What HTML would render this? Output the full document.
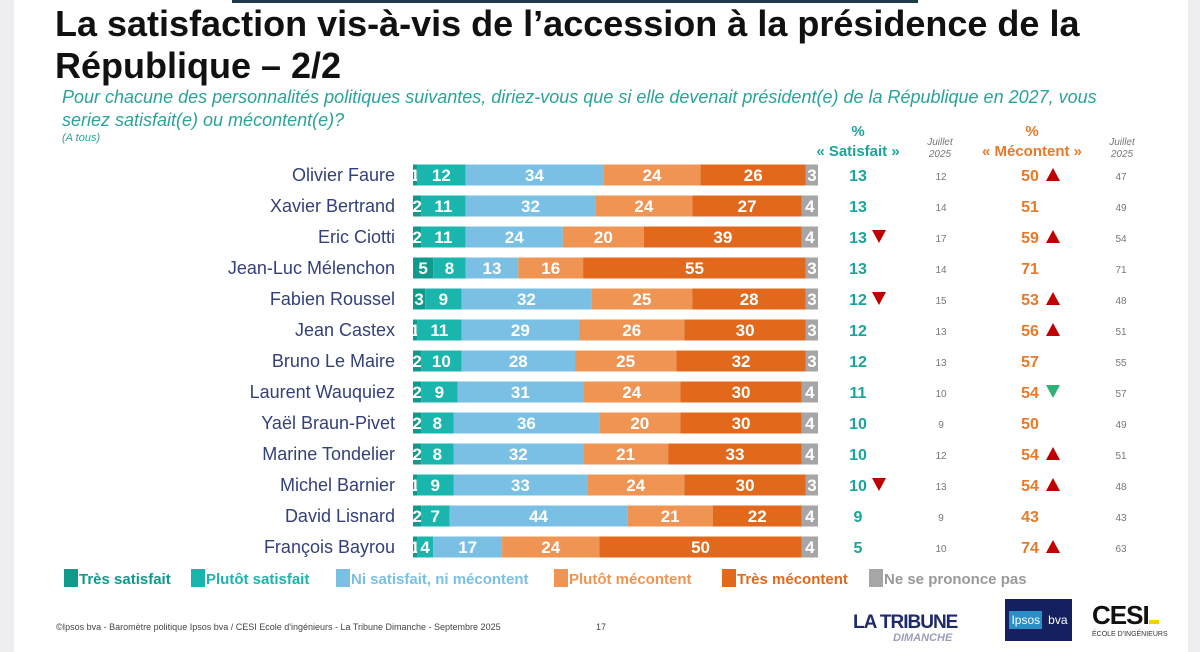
<!DOCTYPE html>
<html><head><meta charset="utf-8"><style>
body{margin:0;width:1200px;height:652px;overflow:hidden;background:#fff;font-family:"Liberation Sans",sans-serif;position:relative}
.abs{position:absolute}
.lg{position:absolute;top:569px;font-size:15px;font-weight:bold;white-space:nowrap}
.sq{display:inline-block;width:14px;height:18px;vertical-align:-3px;margin-right:1px}
</style></head><body>
<div class="abs" style="left:0;top:0;width:14px;height:652px;background:#eeeef2"></div>
<div class="abs" style="left:1188px;top:0;width:12px;height:652px;background:#eeeef2"></div>
<div class="abs" style="left:232px;top:0;width:686px;height:3px;background:#1d3a4a"></div>
<div class="abs" style="left:55px;top:3px;width:1120px;font-size:36px;font-weight:bold;line-height:42px;color:#111">La satisfaction vis-à-vis de l’accession à la présidence de la République – 2/2</div>
<div class="abs" style="left:62px;top:86px;width:1045px;font-size:18px;font-style:italic;line-height:23px;color:#2aa39a">Pour chacune des personnalités politiques suivantes, diriez-vous que si elle devenait président(e) de la République en 2027, vous seriez satisfait(e) ou mécontent(e)?</div>
<div class="abs" style="left:62px;top:132px;font-size:11px;font-style:italic;color:#2aa39a">(A tous)</div>
<div class="abs" style="left:798px;top:122px;width:120px;text-align:center;font-size:15px;font-weight:bold;color:#1aa59b;line-height:20px">%<br>« Satisfait »</div>
<div class="abs" style="left:910px;top:137px;width:60px;text-align:center;font-size:10px;font-style:italic;color:#777;line-height:12px">Juillet<br>2025</div>
<div class="abs" style="left:962px;top:122px;width:140px;text-align:center;font-size:15px;font-weight:bold;color:#e8792a;line-height:20px">%<br>« Mécontent »</div>
<div class="abs" style="left:1092px;top:137px;width:60px;text-align:center;font-size:10px;font-style:italic;color:#777;line-height:12px">Juillet<br>2025</div>
<svg class="abs" style="left:0;top:0" width="1200" height="652" id="chart"></svg>
<span class="lg" style="left:64px;color:#0f9a8c"><span class="sq" style="background:#0f9a8c"></span>Très satisfait</span>
<span class="lg" style="left:191px;color:#1ab5ad"><span class="sq" style="background:#1ab5ad"></span>Plutôt satisfait</span>
<span class="lg" style="left:336px;color:#7ac0e4"><span class="sq" style="background:#7ac0e4"></span>Ni satisfait, ni mécontent</span>
<span class="lg" style="left:554px;color:#ef9452"><span class="sq" style="background:#ef9452"></span>Plutôt mécontent</span>
<span class="lg" style="left:722px;color:#e2691c"><span class="sq" style="background:#e2691c"></span>Très mécontent</span>
<span class="lg" style="left:869px;color:#999"><span class="sq" style="background:#a6a6a6"></span>Ne se prononce pas</span>
<div class="abs" style="left:56px;top:622px;font-size:9px;color:#444">©Ipsos bva - Baromètre politique Ipsos bva / CESI Ecole d'ingénieurs - La Tribune Dimanche - Septembre 2025</div>
<div class="abs" style="left:596px;top:622px;font-size:9px;color:#444">17</div>
<div class="abs" style="left:853px;top:612px;font-size:19px;font-weight:bold;color:#1f2a6b;letter-spacing:-1px">LA TRIBUNE</div>
<div class="abs" style="left:893px;top:632px;font-size:11px;font-style:italic;font-weight:bold;color:#9aa0b8">DIMANCHE</div>
<div class="abs" style="left:1005px;top:599px;width:67px;height:42px;background:#142060;color:#fff;font-size:12px;display:flex;align-items:center;justify-content:center;gap:6px"><span style="background:#2a8fc4;padding:2px 2px">Ipsos</span><span>bva</span></div>
<div class="abs" style="left:1092px;top:600px;font-size:26px;font-weight:bold;color:#111;letter-spacing:-1px">CESI<span style="display:inline-block;width:10px;height:4px;background:#f5d000"></span></div>
<div class="abs" style="left:1092px;top:631px;font-size:7px;color:#333">ÉCOLE D'INGÉNIEURS</div>
<script>
const names=["Olivier Faure","Xavier Bertrand","Eric Ciotti","Jean-Luc Mélenchon","Fabien Roussel","Jean Castex","Bruno Le Maire","Laurent Wauquiez","Yaël Braun-Pivet","Marine Tondelier","Michel Barnier","David Lisnard","François Bayrou"];
const tresSat=[1,2,2,5,3,1,2,2,2,2,1,2,1];
const plutotSat=[12,11,11,8,9,11,10,9,8,8,9,7,4];
const ni=[34,32,24,13,32,29,28,31,36,32,33,44,17];
const plutotMec=[24,24,20,16,25,26,25,24,20,21,24,21,24];
const tresMec=[26,27,39,55,28,30,32,30,30,33,30,22,50];
const nsp=[3,4,4,3,3,3,3,4,4,4,3,4,4];
const satTotal=[13,13,13,13,12,12,12,11,10,10,10,9,5];
const satJuillet=[12,14,17,14,15,13,13,10,9,12,13,9,10];
const mecTotal=[50,51,59,71,53,56,57,54,50,54,54,43,74];
const mecJuillet=[47,49,54,71,48,51,55,57,49,51,48,43,63];
const satTrend=["","","down","","down","","","","","","down","",""];
const mecTrend=["up","","up","","up","up","","downgreen","","up","up","","up"];
const series=[tresSat,plutotSat,ni,plutotMec,tresMec,nsp];
const colors=["#0f9a8c","#1ab5ad","#7ac0e4","#ef9452","#e2691c","#a6a6a6"];
const svg=document.getElementById('chart');const NS="http://www.w3.org/2000/svg";
const x0=413,xw=405,y0=175,dy=31,bh=21;
const xs=v=>v*xw/100, ys=i=>y0+i*dy;
function mk(t,a,txt){const e=document.createElementNS(NS,t);for(const k in a)e.setAttribute(k,a[k]);if(txt!==undefined)e.textContent=txt;svg.appendChild(e);return e;}
function tri(x,y,dir,col){const p=dir==="up"?`${x-7},${y+6} ${x+7},${y+6} ${x},${y-7}`:`${x-7},${y-7} ${x+7},${y-7} ${x},${y+6}`;const e=mk('polygon',{points:p,fill:col});

}
names.forEach((n,i)=>{const y=ys(i);
 const lb=mk('text',{x:395,y:y+6,'text-anchor':'end','font-size':18,fill:'#34407a'},n);
 
 
 let acc=0;
 series.forEach((s,k)=>{const v=s[i];const r=mk('rect',{x:x0+xs(acc),y:y-bh/2,width:xs(v),height:bh,fill:colors[k]});
  
  
  const t=mk('text',{x:x0+xs(acc+v/2),y:y+6,'text-anchor':'middle','font-size':17,'font-weight':'bold',fill:'#fff'},v);
  
  
  acc+=v;});
 const s1=mk('text',{x:858,y:y+6,'text-anchor':'middle','font-size':16,'font-weight':'bold',fill:'#1aa59b'},satTotal[i]);
 
 
 if(satTrend[i])tri(879,y,"down","#c00000");
 const j1=mk('text',{x:941,y:y+5,'text-anchor':'middle','font-size':10,fill:'#777'},satJuillet[i]);
 
 
 const m1=mk('text',{x:1030,y:y+6,'text-anchor':'middle','font-size':16,'font-weight':'bold',fill:'#e8792a'},mecTotal[i]);
 
 
 if(mecTrend[i]==="up")tri(1053,y,"up","#c00000");
 if(mecTrend[i]==="downgreen")tri(1053,y,"down","#2db37a");
 const j2=mk('text',{x:1121,y:y+5,'text-anchor':'middle','font-size':10,fill:'#777'},mecJuillet[i]);
 
 
});
</script>
</body></html>
